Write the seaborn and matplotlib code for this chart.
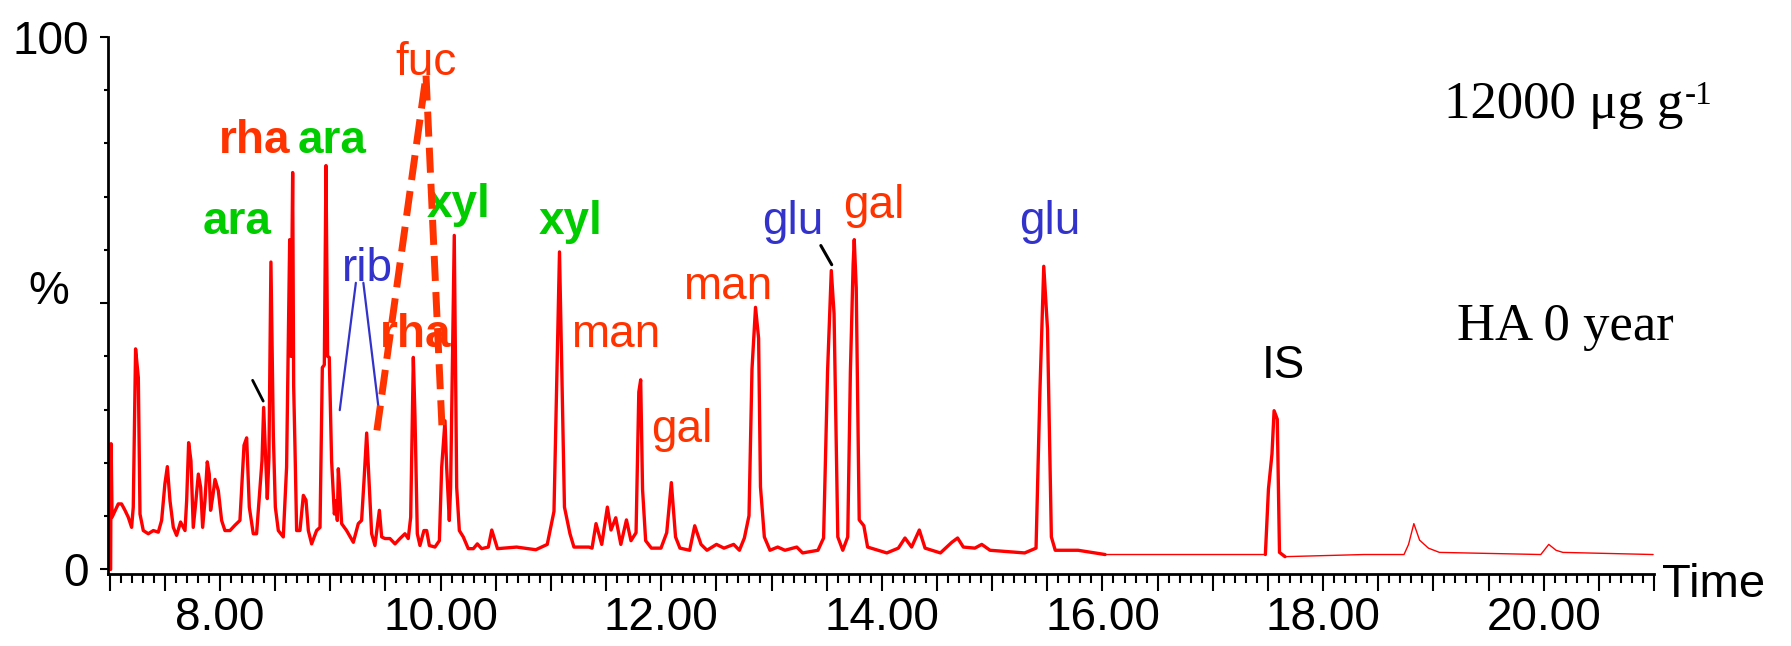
import matplotlib
matplotlib.use("Agg")
import matplotlib.pyplot as plt
from matplotlib.ticker import MultipleLocator, FuncFormatter
import seaborn as sns
import numpy as np

# retention time (min) and relative intensity (%)
rt = [7.009, 7.013, 7.022, 7.078, 7.108, 7.139, 7.169, 7.199, 7.214, 7.235,
      7.260, 7.275, 7.305, 7.350, 7.396, 7.441, 7.471, 7.501, 7.523, 7.547,
      7.577, 7.607, 7.643, 7.683, 7.698, 7.716, 7.737, 7.758, 7.782, 7.804,
      7.825, 7.843, 7.864, 7.885, 7.903, 7.915, 7.934, 7.955, 7.985, 8.015,
      8.045, 8.091, 8.136, 8.181, 8.218, 8.242, 8.266, 8.302, 8.332, 8.363,
      8.381, 8.396, 8.414, 8.429, 8.444, 8.462, 8.484, 8.502, 8.529, 8.574,
      8.604, 8.632, 8.644, 8.659, 8.668, 8.680, 8.695, 8.725, 8.756, 8.780,
      8.801, 8.831, 8.876, 8.907, 8.928, 8.946, 8.961, 8.976, 8.991, 9.012,
      9.037, 9.052, 9.064, 9.073, 9.088, 9.103, 9.148, 9.209, 9.254, 9.284,
      9.306, 9.330, 9.351, 9.375, 9.405, 9.426, 9.445, 9.466, 9.496, 9.541,
      9.587, 9.632, 9.677, 9.707, 9.729, 9.753, 9.768, 9.789, 9.813, 9.849,
      9.874, 9.898, 9.949, 9.989, 10.010, 10.040, 10.055, 10.079, 10.091, 10.124,
      10.146, 10.170, 10.206, 10.251, 10.297, 10.333, 10.372, 10.433, 10.464, 10.516,
      10.689, 10.863, 10.967, 11.028, 11.078, 11.123, 11.173, 11.209, 11.345, 11.373,
      11.409, 11.461, 11.512, 11.545, 11.588, 11.634, 11.685, 11.726, 11.772, 11.797,
      11.814, 11.831, 11.859, 11.911, 11.998, 12.050, 12.092, 12.130, 12.170, 12.258,
      12.304, 12.361, 12.415, 12.501, 12.569, 12.657, 12.709, 12.754, 12.796, 12.823,
      12.855, 12.883, 12.900, 12.935, 12.986, 13.056, 13.122, 13.229, 13.282, 13.421,
      13.472, 13.508, 13.542, 13.567, 13.601, 13.646, 13.691, 13.715, 13.740, 13.750,
      13.768, 13.795, 13.837, 13.871, 14.045, 14.150, 14.210, 14.270, 14.340, 14.392,
      14.531, 14.635, 14.687, 14.739, 14.843, 14.906, 14.981, 15.295, 15.398, 15.433,
      15.468, 15.502, 15.537, 15.572, 15.779, 16.024, 16.432, 17.477, 17.505, 17.537,
      17.556, 17.585, 17.605, 17.655, 18.372, 18.734, 18.775, 18.823, 18.875, 18.955,
      19.055, 19.974, 20.046, 20.112, 20.174, 20.992]

intensity = [0.0, 23.6, 9.8, 12.3, 12.3, 11.1, 9.8, 7.9, 11.7, 41.4,
             36.0, 10.4, 7.3, 6.7, 7.3, 7.0, 9.2, 16.1, 19.3, 12.9,
             7.9, 6.4, 8.9, 7.3, 12.9, 23.8, 20.4, 7.9, 12.9, 17.9,
             15.4, 7.9, 12.9, 20.2, 17.9, 11.1, 13.6, 16.9, 14.8, 9.2,
             7.3, 7.3, 8.3, 9.2, 23.3, 24.7, 11.7, 6.7, 6.7, 15.4,
             20.4, 30.4, 21.0, 13.3, 21.0, 57.7, 25.0, 11.7, 7.3, 6.1,
             19.2, 61.9, 40.0, 74.5, 34.5, 23.0, 7.3, 7.3, 13.9, 13.0,
             7.3, 4.8, 7.3, 7.9, 37.9, 38.4, 75.8, 40.0, 39.8, 20.4,
             10.4, 12.9, 9.2, 18.9, 14.2, 8.6, 7.3, 5.1, 8.6, 9.2,
             16.7, 25.6, 16.7, 6.7, 4.5, 7.9, 11.1, 6.1, 5.8, 5.8,
             4.8, 5.8, 6.7, 5.8, 9.8, 39.8, 28.6, 6.7, 4.5, 7.3,
             7.3, 4.5, 4.2, 5.4, 19.2, 27.9, 19.2, 9.2, 15.4, 62.7,
             15.4, 7.3, 6.1, 3.9, 3.9, 4.8, 3.9, 4.2, 7.4, 3.9,
             4.2, 3.7, 4.7, 10.9, 59.6, 11.7, 6.7, 4.2, 4.2, 4.0,
             8.6, 4.7, 11.7, 7.4, 9.7, 4.7, 9.3, 5.4, 6.9, 33.3,
             35.6, 15.0, 5.4, 4.0, 4.0, 6.9, 16.3, 6.1, 4.0, 3.6,
             8.2, 4.7, 3.6, 4.7, 4.0, 4.7, 3.6, 5.9, 10.1, 37.6,
             49.2, 43.4, 15.5, 6.1, 3.6, 4.2, 3.6, 4.2, 3.1, 3.6,
             5.9, 37.1, 56.1, 48.0, 6.1, 3.6, 6.1, 37.1, 57.3, 61.9,
             52.9, 9.3, 8.2, 4.2, 3.1, 4.0, 5.9, 4.2, 7.4, 4.0,
             3.1, 5.1, 5.9, 4.2, 4.0, 4.7, 3.6, 3.1, 4.0, 33.3,
             56.9, 45.1, 6.1, 3.6, 3.6, 2.8, 2.8, 2.8, 15.1, 21.7,
             29.8, 28.2, 3.2, 2.4, 2.8, 2.8, 4.7, 8.6, 5.5, 4.0,
             3.2, 2.8, 4.7, 3.6, 3.2, 2.8]

assert len(rt) == len(intensity)

# peak labels: text, time, intensity (baseline of text), colour, bold
peak_names = ["fuc", "rha", "ara", "ara", "rib", "rha", "xyl", "xyl",
              "man", "gal", "man", "glu", "gal", "glu", "IS"]
peak_label_t = [9.864, 8.313, 9.020, 8.159, 9.333, 9.772, 10.162, 11.182,
                11.590, 12.189, 12.606, 13.195, 13.925, 15.520, 17.637]
peak_label_y = [92.9, 78.2, 78.2, 63.0, 54.2, 41.8, 66.2, 63.0,
                41.8, 24.0, 50.7, 63.0, 65.9, 63.0, 36.0]
peak_colors = ["#FF3300", "#FF3300", "#00CC00", "#00CC00", "#3333CC", "#FF3300",
               "#00CC00", "#00CC00", "#FF3300", "#FF3300", "#FF3300", "#3333CC",
               "#FF3300", "#3333CC", "black"]
peak_bold = [False, True, True, True, False, True, True, True,
             False, False, False, False, False, False, False]

sns.set_style("ticks")
plt.rcParams['font.family'] = ['Liberation Sans', 'DejaVu Sans']
plt.rcParams.update({
    'text.color': 'black',
    'axes.edgecolor': 'black',
    'axes.labelcolor': 'black',
    'xtick.color': 'black',
    'ytick.color': 'black',
    'xtick.labelcolor': 'black',
    'ytick.labelcolor': 'black',
})

fig = plt.figure(figsize=(17.91, 6.46), dpi=100)
ax = fig.add_axes([0.0603, 0.1115, 0.8632, 0.8317])

t_arr = np.array(rt)
y_arr = np.array(intensity)
early = t_arr <= 16.03
late = t_arr >= 16.02
istd = (t_arr >= 17.47) & (t_arr <= 17.66)

sns.lineplot(x=t_arr[early], y=y_arr[early], ax=ax, color="#FF0000",
             linewidth=2.4, sort=False, estimator=None)
sns.lineplot(x=t_arr[late], y=y_arr[late], ax=ax, color="#FF0000",
             linewidth=1.0, sort=False, estimator=None)
sns.lineplot(x=t_arr[istd], y=y_arr[istd], ax=ax, color="#FF0000",
             linewidth=2.4, sort=False, estimator=None)

ax.set_xlim(6.985, 21.0)
ax.set_ylim(-0.85, 100)

for name, tx, ty, col, bold in zip(peak_names, peak_label_t, peak_label_y,
                                   peak_colors, peak_bold):
    ax.text(tx, ty, name, color=col, fontsize=33, ha='center', va='baseline',
            fontweight='bold' if bold else 'normal', zorder=3)

# connector lines
ax.plot([8.296, 8.392], [35.5, 31.6], color='black', lw=2, zorder=3)
ax.plot([13.447, 13.546], [60.8, 57.2], color='black', lw=2.2, zorder=3)
ax.plot([9.086, 9.232], [29.9, 53.8], color='#3333CC', lw=1.6, zorder=3)
ax.plot([9.300, 9.440], [53.8, 29.9], color='#3333CC', lw=1.6, zorder=3)
ax.plot([9.423, 9.868], [26.1, 92.7], color='#FF3300', lw=5,
        linestyle=(0, (3.6, 1.6)), dash_capstyle='butt', zorder=4)
ax.plot([9.868, 10.013], [92.7, 26.6], color='#FF3300', lw=5,
        linestyle=(0, (3.6, 1.6)), dash_capstyle='butt', zorder=4)

# sample annotations
conc = ax.text(19.097, 84.8, "12000 \u03bcg g", fontsize=38, color='black',
               family=['Liberation Serif', 'DejaVu Serif'], ha='left', va='baseline')
ax.annotate("-1", xy=(1, 1), xycoords=conc, xytext=(1, 0), textcoords='offset points',
            fontsize=24, color='black', family=['Liberation Serif', 'DejaVu Serif'],
            ha='left', va='top')
ax.text(19.215, 43.0, "HA 0 year", fontsize=38, color='black',
        family=['Liberation Serif', 'DejaVu Serif'], ha='left', va='baseline')

# axes styling
for side in ['top', 'right']:
    ax.spines[side].set_visible(False)
ax.spines['left'].set_linewidth(2)
ax.spines['bottom'].set_linewidth(2)

ax.xaxis.set_major_locator(MultipleLocator(0.5))
ax.xaxis.set_minor_locator(MultipleLocator(0.1))
ax.xaxis.set_major_formatter(FuncFormatter(
    lambda v, p: f"{v:.2f}" if abs(v / 2 - round(v / 2)) < 1e-6 else ""))
ax.yaxis.set_major_locator(MultipleLocator(50))
ax.yaxis.set_minor_locator(MultipleLocator(10))
ax.yaxis.set_major_formatter(FuncFormatter(
    lambda v, p: f"{v:.0f}" if v in (0, 100) else ""))

ax.tick_params(axis='x', which='major', length=12, width=1.5, direction='out',
               labelsize=33, pad=4, color='black', labelcolor='black')
ax.tick_params(axis='x', which='minor', length=6.3, width=1.5, direction='out',
               color='black')
ax.tick_params(axis='y', which='major', length=6, width=1.5, direction='out',
               labelsize=33, pad=8, color='black', labelcolor='black')
ax.tick_params(axis='y', which='minor', length=3, width=1.5, direction='out',
               color='black')
ax.set_xlabel("")
ax.set_ylabel("")

ax.text(1.005, -0.0205, "Time", transform=ax.transAxes, ha='left', va='center',
        fontsize=34, color='black', clip_on=False)
ax.text(-0.0382, 0.525, "%", transform=ax.transAxes, ha='center', va='center',
        fontsize=33, color='black', clip_on=False)

fig.savefig("out.png", dpi=100)
